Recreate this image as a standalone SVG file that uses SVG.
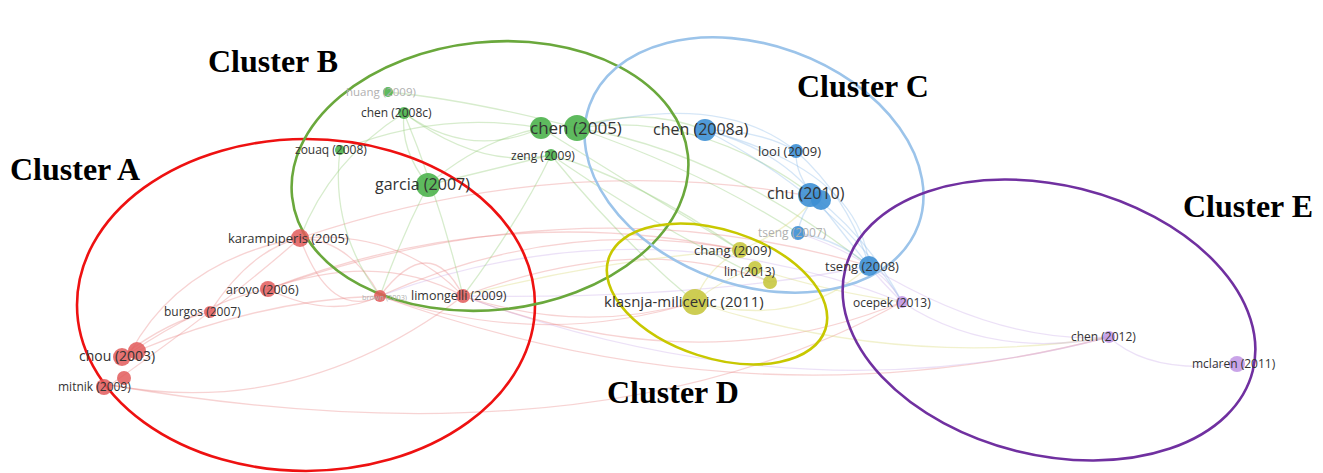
<svg xmlns="http://www.w3.org/2000/svg" width="1323" height="473" viewBox="0 0 1323 473">
<style>
.e{fill:none;stroke-width:1.3;opacity:0.35}
.er{stroke:#e88080}.eg{stroke:#8cc870}.eb{stroke:#88b8e8}.ey{stroke:#d8d870}.ep{stroke:#c8a8e8}
.nr{fill:#e25a5a;opacity:0.85}.ng{fill:#4cb24c;opacity:0.9}.nb{fill:#3d8fd4;opacity:0.9}.ny{fill:#c8c840;opacity:0.9}.np{fill:#c39ae6;opacity:0.9}
.l{font-family:"Open Sans","Liberation Sans",sans-serif;fill:#333}
.f{fill:#b0b0b0}
.cl{fill:none;stroke-width:2.6}
.ct{font-family:"Liberation Serif",serif;font-weight:bold;font-size:32px;fill:#000}
</style>
<rect width="1323" height="473" fill="#fff"/>
<g id="connectors">
<path class="e er" d="M130,353 Q180,260 300,238"/>
<path class="e er" d="M130,353 Q210,300 268,289"/>
<path class="e er" d="M122,356 Q170,320 210,312"/>
<path class="e er" d="M110,385 Q300,420 463,296"/>
<path class="e er" d="M137,351 Q260,300 380,296"/>
<path class="e er" d="M110,385 Q230,300 300,238"/>
<path class="e er" d="M268,289 Q380,250 463,296"/>
<path class="e er" d="M268,289 Q330,320 380,296"/>
<path class="e er" d="M300,238 Q350,240 380,296"/>
<path class="e er" d="M300,238 Q400,230 463,296"/>
<path class="e er" d="M210,312 Q250,250 300,238"/>
<path class="e er" d="M380,296 Q560,215 740,250"/>
<path class="e er" d="M380,296 Q540,350 695,302"/>
<path class="e er" d="M463,296 Q580,335 695,302"/>
<path class="e er" d="M268,289 Q580,180 869,266"/>
<path class="e er" d="M463,296 Q700,385 902,302"/>
<path class="e er" d="M380,296 Q750,430 1109,337"/>
<path class="e er" d="M300,238 Q560,150 815,197"/>
<path class="e er" d="M268,289 Q500,200 740,250"/>
<path class="e er" d="M463,296 Q640,230 770,282"/>
<path class="e er" d="M380,296 Q430,230 463,296"/>
<path class="e er" d="M300,238 Q330,320 380,296"/>
<path class="e er" d="M110,385 Q600,470 902,302"/>
<path class="e ep" d="M463,296 Q700,300 869,266"/>
<path class="e ep" d="M380,296 Q640,200 902,302"/>
<path class="e ep" d="M463,296 Q800,420 1109,337"/>
<path class="e eg" d="M404,113 Q470,160 541,128"/>
<path class="e eg" d="M404,113 Q480,170 551,155"/>
<path class="e eg" d="M404,113 Q400,150 428,185"/>
<path class="e eg" d="M404,113 Q440,200 463,296"/>
<path class="e eg" d="M388,92 Q470,100 577,128"/>
<path class="e eg" d="M428,185 Q480,140 541,128"/>
<path class="e eg" d="M428,185 Q490,170 551,155"/>
<path class="e eg" d="M551,155 Q640,180 740,250"/>
<path class="e eg" d="M577,128 Q720,150 869,266"/>
<path class="e eg" d="M577,128 Q700,110 815,197"/>
<path class="e eg" d="M551,155 Q620,240 695,302"/>
<path class="e eg" d="M340,150 Q330,230 380,296"/>
<path class="e eg" d="M340,150 Q440,110 541,128"/>
<path class="e eg" d="M577,128 Q640,105 705,130"/>
<path class="e eg" d="M428,185 Q400,240 380,296"/>
<path class="e eg" d="M551,155 Q660,230 770,282"/>
<path class="e eg" d="M541,128 Q640,190 740,250"/>
<path class="e eg" d="M551,155 Q520,220 463,296"/>
<path class="e eg" d="M404,113 Q330,160 300,238"/>
<path class="e eg" d="M577,128 Q700,170 798,233"/>
<path class="e eb" d="M705,130 Q760,130 796,151"/>
<path class="e eb" d="M705,130 Q780,150 815,197"/>
<path class="e eb" d="M705,130 Q860,170 869,266"/>
<path class="e eb" d="M796,151 Q795,175 815,197"/>
<path class="e eb" d="M815,197 Q800,215 798,233"/>
<path class="e eb" d="M815,197 Q840,230 869,266"/>
<path class="e eb" d="M798,233 Q840,240 869,266"/>
<path class="e eb" d="M796,151 Q850,200 869,266"/>
<path class="e eb" d="M815,197 Q870,240 902,302"/>
<path class="e eb" d="M705,130 Q840,200 902,302"/>
<path class="e eb" d="M577,128 Q720,90 796,151"/>
<path class="e ey" d="M740,250 Q705,270 695,302"/>
<path class="e ey" d="M755,268 Q720,280 695,302"/>
<path class="e ey" d="M695,302 Q800,330 869,266"/>
<path class="e ey" d="M740,250 Q790,230 815,197"/>
<path class="e ey" d="M695,302 Q900,370 1109,337"/>
<path class="e ey" d="M755,268 Q820,290 902,302"/>
<path class="e ey" d="M463,296 Q600,260 740,250"/>
<path class="e ep" d="M902,302 Q990,360 1109,337"/>
<path class="e ep" d="M869,266 Q1000,345 1109,337"/>
<path class="e ep" d="M1109,337 Q1150,375 1237,364"/>
<path class="e ep" d="M902,302 Q880,280 869,266"/>
<path class="e ep" d="M798,233 Q880,260 902,302"/>
</g>
<g id="clusters">
<ellipse class="cl" cx="306" cy="305" rx="229" ry="166" stroke="#ee1111"/>
<ellipse class="cl" cx="490" cy="176" rx="199" ry="134" stroke="#6aa83c" transform="rotate(-6 490 176)"/>
<ellipse class="cl" cx="754" cy="165" rx="175" ry="120" stroke="#9cc4ea" transform="rotate(20 754 165)"/>
<ellipse class="cl" cx="717" cy="294" rx="114" ry="64" stroke="#c8c800" transform="rotate(18 717 294)"/>
<ellipse class="cl" cx="1049" cy="320" rx="210" ry="135" stroke="#7030a0" transform="rotate(14 1049 320)"/>
</g>
<g id="cluster-labels">
<text class="ct" x="10" y="180">Cluster A</text>
<text class="ct" x="208" y="72">Cluster B</text>
<text class="ct" x="797" y="97">Cluster C</text>
<text class="ct" x="607" y="403">Cluster D</text>
<text class="ct" x="1183" y="217">Cluster E</text>
</g>
<g id="node-brown"><circle class="nr" cx="380" cy="296" r="6"/><text class="l f" x="362" y="300" font-size="7.5" textLength="45" lengthAdjust="spacingAndGlyphs">brown (2003)</text></g>
<g id="node-karampiperis"><circle class="nr" cx="300" cy="238" r="9"/><text class="l" x="228" y="243" font-size="13">karampiperis (2005)</text></g>
<g id="node-aroyo"><circle class="nr" cx="268" cy="289" r="8"/><text class="l" x="226" y="294" font-size="12.5">aroyo (2006)</text></g>
<g id="node-burgos"><circle class="nr" cx="210" cy="312" r="6"/><text class="l" x="164" y="316" font-size="12">burgos (2007)</text></g>
<g id="node-chou"><circle class="nr" cx="122" cy="357" r="9"/><circle class="nr" cx="137" cy="351" r="9"/><text class="l" x="79" y="361" font-size="14">chou (2003)</text></g>
<g id="node-mitnik"><circle class="nr" cx="104" cy="387" r="8"/><circle class="nr" cx="124" cy="378" r="7"/><text class="l" x="58" y="391" font-size="12">mitnik (2009)</text></g>
<g id="node-limongelli"><circle class="nr" cx="463" cy="296" r="7"/><text class="l" x="411" y="300" font-size="12.5">limongelli (2009)</text></g>
<g id="node-huang"><circle class="ng" cx="388" cy="92" r="5"/><text class="l f" x="346" y="96" font-size="11.5">huang (2009)</text></g>
<g id="node-chen2008c"><circle class="ng" cx="404" cy="113" r="6"/><text class="l" x="361" y="117" font-size="12">chen (2008c)</text></g>
<g id="node-zouaq"><circle class="ng" cx="340" cy="150" r="5"/><text class="l" x="295" y="154" font-size="12">zouaq (2008)</text></g>
<g id="node-garcia"><circle class="ng" cx="428" cy="185" r="12"/><text class="l" x="375" y="190" font-size="16">garcia (2007)</text></g>
<g id="node-chen2005"><circle class="ng" cx="541" cy="128" r="11"/><circle class="ng" cx="577" cy="128" r="13"/><text class="l" x="530" y="134" font-size="17">chen (2005)</text></g>
<g id="node-zeng"><circle class="ng" cx="551" cy="155" r="6"/><text class="l" x="511" y="160" font-size="12">zeng (2009)</text></g>
<g id="node-chen2008a"><circle class="nb" cx="705" cy="130" r="11"/><text class="l" x="653" y="135" font-size="16">chen (2008a)</text></g>
<g id="node-looi"><circle class="nb" cx="796" cy="151" r="7"/><text class="l" x="758" y="156" font-size="13">looi (2009)</text></g>
<g id="node-chu"><circle class="nb" cx="810" cy="195" r="12"/><circle class="nb" cx="821" cy="200" r="10"/><text class="l" x="767" y="199" font-size="16">chu (2010)</text></g>
<g id="node-tseng2007"><circle class="nb" cx="798" cy="233" r="7"/><text class="l f" x="758" y="237" font-size="12">tseng (2007)</text></g>
<g id="node-tseng2008"><circle class="nb" cx="869" cy="266" r="10"/><text class="l" x="825" y="271" font-size="13">tseng (2008)</text></g>
<g id="node-chang"><circle class="ny" cx="740" cy="250" r="8"/><text class="l" x="694" y="255" font-size="13">chang (2009)</text></g>
<g id="node-lin"><circle class="ny" cx="755" cy="268" r="7"/><circle class="ny" cx="770" cy="282" r="7"/><text class="l" x="724" y="276" font-size="12">lin (2013)</text></g>
<g id="node-klasnja"><circle class="ny" cx="695" cy="302" r="13"/><text class="l" x="604" y="307" font-size="15">klasnja-milicevic (2011)</text></g>
<g id="node-ocepek"><circle class="np" cx="902" cy="302" r="6"/><text class="l" x="853" y="307" font-size="12">ocepek (2013)</text></g>
<g id="node-chen2012"><circle class="np" cx="1109" cy="337" r="6"/><text class="l" x="1071" y="341" font-size="12">chen (2012)</text></g>
<g id="node-mclaren"><circle class="np" cx="1237" cy="364" r="8"/><text class="l" x="1192" y="368" font-size="12">mclaren (2011)</text></g>
</svg>
